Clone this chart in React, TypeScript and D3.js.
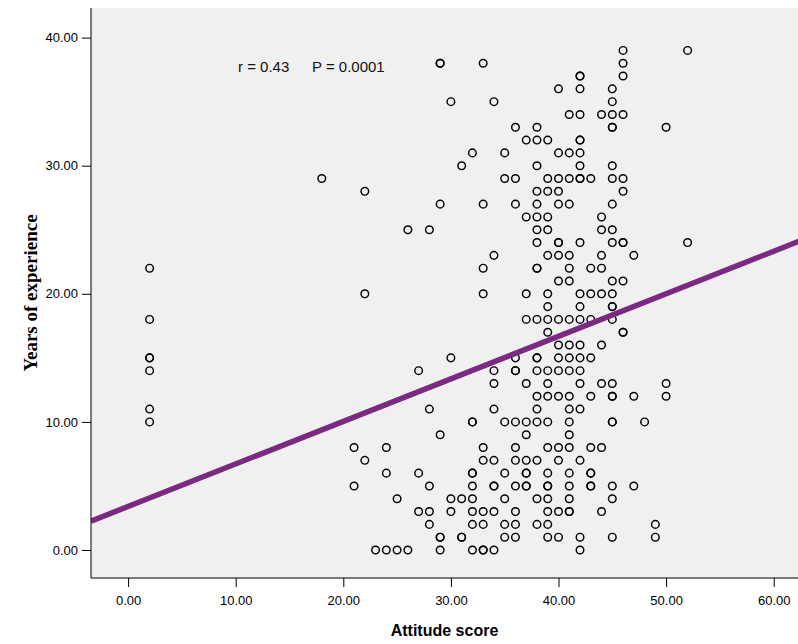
import React, { useEffect, useRef } from "react";
import * as d3 from "d3";

// Attitude score columns and the years-of-experience values found at each
const attitudeScores = [2, 18, 21, 22, 23, 24, 25, 26, 27, 28, 29, 30, 31, 32, 33, 34, 35, 36, 37, 38, 39, 40, 41, 42, 43, 44, 45, 46, 47, 48, 49, 50, 52];
const yearsByScore = [
  [22, 18, 15, 15, 14, 11, 10],
  [29],
  [8, 5],
  [28, 20, 7],
  [0],
  [8, 6, 0],
  [4, 0],
  [25, 0],
  [14, 6, 3],
  [25, 11, 5, 3, 2],
  [38, 38, 27, 9, 1, 1, 0],
  [35, 15, 4, 3],
  [30, 4, 1, 1],
  [31, 10, 10, 6, 6, 5, 4, 3, 2, 0],
  [38, 27, 22, 20, 8, 7, 3, 2, 0, 0],
  [35, 23, 14, 13, 11, 7, 5, 5, 3, 0],
  [31, 29, 10, 6, 4, 2, 1],
  [33, 29, 27, 15, 14, 14, 10, 8, 7, 5, 3, 2, 1],
  [32, 26, 20, 18, 13, 10, 9, 7, 6, 6, 5, 5],
  [33, 32, 30, 28, 27, 26, 25, 24, 22, 22, 18, 15, 15, 14, 12, 11, 10, 7, 4, 2],
  [32, 29, 28, 26, 25, 23, 20, 19, 18, 17, 14, 13, 12, 10, 8, 6, 5, 5, 4, 3, 2, 1],
  [36, 31, 29, 28, 27, 24, 24, 23, 21, 18, 16, 15, 14, 12, 8, 7, 3, 1],
  [34, 31, 29, 27, 23, 22, 21, 18, 16, 15, 14, 12, 11, 10, 9, 8, 6, 5, 4, 3, 3],
  [37, 37, 36, 34, 32, 32, 31, 30, 29, 29, 24, 20, 19, 18, 16, 15, 14, 13, 11, 7, 1, 0],
  [29, 22, 20, 18, 15, 12, 8, 6, 6, 5, 5],
  [34, 26, 25, 23, 22, 20, 16, 13, 8, 3],
  [36, 35, 34, 33, 33, 30, 29, 27, 25, 24, 21, 20, 19, 19, 18, 13, 12, 12, 10, 10, 5, 4, 1],
  [39, 38, 37, 34, 29, 28, 24, 24, 21, 17, 17],
  [23, 12, 5],
  [10],
  [2, 1],
  [33, 13, 12],
  [39, 24],
];

const xTicks = [0, 10, 20, 30, 40, 50, 60];
const yTicks = [0, 10, 20, 30, 40];

// fit line
const fitIntercept = 3.4;
const fitSlope = 0.332;
const rLabel = "r = 0.43";
const pLabel = "P = 0.0001";

export default function App() {
  const svgRef = useRef<SVGSVGElement>(null);
  const width = 798;
  const height = 644;
  const frame = { left: 91, right: 800, top: 8, bottom: 578 };

  useEffect(() => {
    const svg = d3.select(svgRef.current);
    svg.selectAll("*").remove();

    const xScale = d3.scaleLinear().domain([0, 60]).range([128.1, 773.7]);
    const yScale = d3.scaleLinear().domain([0, 40]).range([550, 37.6]);

    const points = attitudeScores.flatMap((s, i) =>
      yearsByScore[i].map((v) => ({ score: s, years: v }))
    );

    // plot background
    svg
      .append("rect")
      .attr("x", frame.left)
      .attr("y", frame.top)
      .attr("width", frame.right - frame.left)
      .attr("height", frame.bottom - frame.top)
      .attr("fill", "#f0f0f0");

    svg
      .append("clipPath")
      .attr("id", "plot-clip")
      .append("rect")
      .attr("x", frame.left)
      .attr("y", frame.top)
      .attr("width", frame.right - frame.left)
      .attr("height", frame.bottom - frame.top);

    // points
    svg
      .append("g")
      .selectAll("circle")
      .data(points)
      .enter()
      .append("circle")
      .attr("cx", (d) => xScale(d.score))
      .attr("cy", (d) => yScale(d.years))
      .attr("r", 3.8)
      .attr("fill", "none")
      .attr("stroke", "#000")
      .attr("stroke-width", 1.45);

    // fit line
    const x0 = xScale.invert(frame.left);
    const x1 = xScale.invert(frame.right);
    svg
      .append("line")
      .attr("clip-path", "url(#plot-clip)")
      .attr("x1", xScale(x0))
      .attr("y1", yScale(fitIntercept + fitSlope * x0))
      .attr("x2", xScale(x1))
      .attr("y2", yScale(fitIntercept + fitSlope * x1))
      .attr("stroke", "#7a2a80")
      .attr("stroke-width", 5.5);

    // annotation
    svg
      .append("text")
      .attr("x", 238)
      .attr("y", 72)
      .attr("font-family", "Arial, 'Liberation Sans', sans-serif")
      .attr("font-size", 15)
      .attr("fill", "#111")
      .text(rLabel);
    svg
      .append("text")
      .attr("x", 312)
      .attr("y", 72)
      .attr("font-family", "Arial, 'Liberation Sans', sans-serif")
      .attr("font-size", 15)
      .attr("fill", "#111")
      .text(pLabel);

    // axes
    const fmt = d3.format(".2f");
    const yAxis = svg
      .append("g")
      .attr("transform", `translate(${frame.left},0)`)
      .call(d3.axisLeft(yScale).tickValues(yTicks).tickFormat(fmt).tickSize(9).tickPadding(4));
    yAxis.select(".domain").remove();

    const xAxis = svg
      .append("g")
      .attr("transform", `translate(0,${frame.bottom})`)
      .call(d3.axisBottom(xScale).tickValues(xTicks).tickFormat(fmt).tickSize(9).tickPadding(9));
    xAxis.select(".domain").remove();

    svg
      .selectAll(".tick text")
      .attr("font-family", "Arial, 'Liberation Sans', sans-serif")
      .attr("font-size", 13)
      .attr("fill", "#000");
    svg.selectAll(".tick line").attr("stroke", "#000");

    svg
      .append("line")
      .attr("x1", frame.left)
      .attr("x2", frame.left)
      .attr("y1", frame.top)
      .attr("y2", frame.bottom)
      .attr("stroke", "#000");
    svg
      .append("line")
      .attr("x1", frame.left)
      .attr("x2", frame.right)
      .attr("y1", frame.bottom)
      .attr("y2", frame.bottom)
      .attr("stroke", "#000");

    // titles
    svg
      .append("text")
      .attr("x", (frame.left + 798) / 2)
      .attr("y", 636)
      .attr("text-anchor", "middle")
      .attr("font-family", "Arial, 'Liberation Sans', sans-serif")
      .attr("font-weight", "bold")
      .attr("font-size", 16)
      .text("Attitude score");

    svg
      .append("text")
      .attr("transform", `translate(37,${(frame.top + frame.bottom) / 2}) rotate(-90)`)
      .attr("text-anchor", "middle")
      .attr("font-family", "'Times New Roman', 'Liberation Serif', serif")
      .attr("font-weight", "bold")
      .attr("font-size", 19)
      .text("Years of experience");
  }, []);

  return (
    <svg
      ref={svgRef}
      width={width}
      height={height}
      style={{ position: "absolute", left: 0, top: 0, display: "block", background: "#fff" }}
    />
  );
}
